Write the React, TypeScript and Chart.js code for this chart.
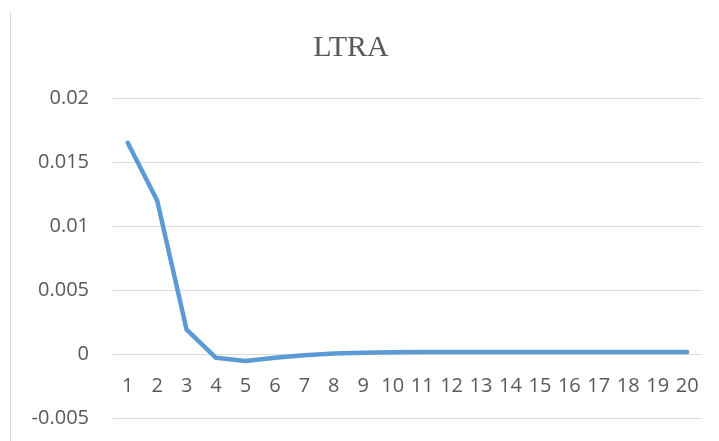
import React, { useEffect, useRef } from "react";
import { Chart, registerables } from "chart.js";

Chart.register(...registerables);

const chartTitle = "LTRA";
const categories = ["1", "2", "3", "4", "5", "6", "7", "8", "9", "10", "11", "12", "13", "14", "15", "16", "17", "18", "19", "20"];
const ltraValues = [0.0165, 0.012, 0.0019, -0.0003, -0.00055, -0.0003, -0.0001, 0.00003, 0.0001, 0.00014, 0.00016, 0.00016, 0.00016, 0.00016, 0.00016, 0.00016, 0.00016, 0.00016, 0.00016, 0.00015];
const yTickValues = [-0.005, 0, 0.005, 0.01, 0.015, 0.02];

export default function App() {
  const canvasRef = useRef<HTMLCanvasElement | null>(null);

  useEffect(() => {
    if (!canvasRef.current) return;
    const chart = new Chart(canvasRef.current, {
      type: "line",
      data: {
        labels: categories,
        datasets: [
          {
            label: chartTitle,
            data: ltraValues,
            borderColor: "#5B9BD5",
            backgroundColor: "#5B9BD5",
            borderWidth: 4.5,
            tension: 0,
            pointRadius: 0,
            pointHoverRadius: 0,
            borderCapStyle: "round",
            borderJoinStyle: "round",
            fill: false,
          },
        ],
      },
      options: {
        animation: false,
        responsive: false,
        maintainAspectRatio: false,
        layout: { padding: { left: 0, right: 17, top: 0, bottom: 23 } },
        plugins: {
          legend: { display: false },
          tooltip: { enabled: false },
          title: {
            display: true,
            text: chartTitle,
            color: "#595959",
            font: { family: "'Liberation Serif', 'Times New Roman', serif", size: 30, weight: "normal" },
            padding: { top: 30, bottom: 32 },
          },
        },
        scales: {
          x: {
            type: "category",
            offset: true,
            position: { y: 0 } as any,
            grid: { display: false, drawTicks: false },
            border: { display: false },
            afterFit: (scale: any) => {
              scale.height = 0;
            },
            ticks: {
              color: "#595959",
              font: { family: "'Open Sans', sans-serif", size: 20 },
              maxRotation: 0,
              autoSkip: false,
              padding: 20,
            },
          },
          y: {
            type: "linear",
            min: -0.005,
            max: 0.02,
            grid: { color: "#d9d9d9", lineWidth: 1, drawTicks: false },
            border: { display: false },
            afterBuildTicks: (scale: any) => {
              scale.ticks = yTickValues.map((v) => ({ value: v }));
            },
            afterFit: (scale: any) => {
              scale.width = 113;
              scale.paddingTop = 12;
              scale.paddingBottom = 12;
            },
            ticks: {
              color: "#595959",
              font: { family: "'Open Sans', sans-serif", size: 20 },
              padding: 24,
              callback: (v: any) => String(parseFloat(Number(v).toFixed(4))),
            },
          },
        },
      },
    });
    return () => chart.destroy();
  }, []);

  return (
    <div style={{ position: "absolute", left: 0, top: 0, width: 719, height: 441, background: "#fff" }}>
      <canvas ref={canvasRef} width={719} height={441} style={{ display: "block" }} />
      <div
        style={{
          position: "absolute",
          left: 10,
          top: 12,
          width: 0,
          height: 429,
          borderLeft: "1px solid #d9d9d9",
        }}
      />
    </div>
  );
}
